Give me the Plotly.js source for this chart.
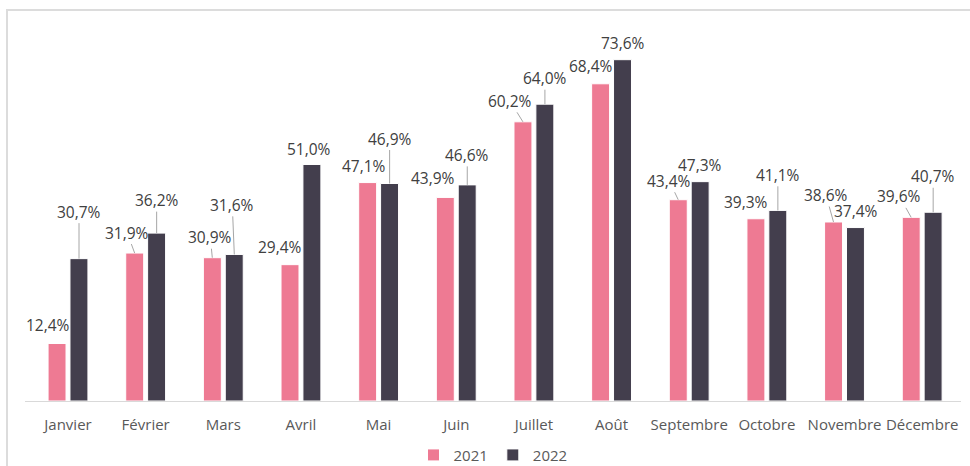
<!DOCTYPE html>
<html>
<head>
<meta charset="utf-8">
<script src="https://cdn.plot.ly/plotly-3.0.1.min.js"></script>
<style>
  html, body { margin: 0; padding: 0; background: #ffffff; }
  #wrap { position: relative; width: 970px; height: 466px; overflow: hidden; }
  #chart { position: absolute; left: 0; top: 0; width: 970px; height: 466px; }
  #frame { position: absolute; left: 6px; top: 9px; width: 980px; height: 480px;
           border-left: 2px solid #dcdcdc; border-top: 2px solid #dcdcdc; pointer-events: none; }
</style>
</head>
<body>
<div id="wrap">
  <div id="chart"></div>
  <div id="frame"></div>
</div>
<script>
// ---- data ----
const months = ["Janvier", "Février", "Mars", "Avril", "Mai", "Juin", "Juillet", "Août", "Septembre", "Octobre", "Novembre", "Décembre"];
const series2021 = [12.4, 31.9, 30.9, 29.4, 47.1, 43.9, 60.2, 68.4, 43.4, 39.3, 38.6, 39.6];
const series2022 = [30.7, 36.2, 31.6, 51.0, 46.9, 46.6, 64.0, 73.6, 47.3, 41.1, 37.4, 40.7];
const seriesNames = ["2021", "2022"];

// ---- styling / label placement (pixel offsets of callouts) ----
const colors = ["#EE7A93", "#433E4D"];
const barShift = 11; // px offset of each bar from category centre
const callouts2021 = [[-9,-19,0],[-7.5,-20.5,1],[-2,-20.5,1],[-9.5,-18,0],[-3.5,-17,0],[-12,-19,0],[-13,-21,1],[-10,-17.5,0],[-9,-19,1],[-9.5,-17,0],[-7.5,-27,1],[-11.7,-21,1]];
const callouts2022 = [[0,-47,1],[0,-33,1],[-2,-49.6,1],[-3,-15,0],[0,-45,1],[0,-30,1],[0,-26,1],[0,-17,0],[0,-17,0],[0,-35.6,1],[0,-17,0],[0,-36,1]];

const fmt = v => v.toFixed(1).replace('.', ',') + '%';

const traces = [series2021, series2022].map((vals, k) => ({
  type: 'bar',
  name: seriesNames[k],
  x: months,
  y: vals,
  marker: { color: colors[k], line: { color: '#ffffff', width: 1 } },
  hoverinfo: 'skip'
}));

const annotations = [];
[[series2021, callouts2021, -barShift], [series2022, callouts2022, barShift]].forEach(([vals, co, shift]) => {
  vals.forEach((v, i) => {
    annotations.push({
      x: months[i], y: v, xref: 'x', yref: 'y',
      text: fmt(v),
      xshift: shift,
      showarrow: true,
      arrowhead: 0, arrowwidth: 1, standoff: 0, startstandoff: 0,
      arrowcolor: co[i][2] ? '#a6a6a6' : 'rgba(0,0,0,0)',
      ax: co[i][0], ay: co[i][1], axref: 'pixel', ayref: 'pixel',
      font: { family: 'Open Sans', size: 15.5, color: '#404040' },
      borderpad: 0
    });
  });
});

const layout = {
  width: 970, height: 466,
  margin: { l: 25, r: 9, t: 30, b: 65, autoexpand: false },
  paper_bgcolor: '#ffffff', plot_bgcolor: '#ffffff',
  barmode: 'group', bargap: 0.436, bargroupgap: 0.18,
  showlegend: true,
  legend: { orientation: 'h', x: 0.5, xanchor: 'center', y: -0.146, yanchor: 'middle',
            font: { family: 'Open Sans', size: 15, color: '#595959' }, itemwidth: 30 },
  xaxis: { type: 'category', showline: true, linecolor: '#d9d9d9', linewidth: 1,
           ticks: '', showgrid: false, zeroline: false, fixedrange: true,
           ticklabelstandoff: 10,
           tickfont: { family: 'Open Sans', size: 15, color: '#595959' } },
  yaxis: { range: [0, 80], visible: false, showgrid: false, zeroline: false, fixedrange: true },
  annotations: annotations
};

Plotly.newPlot('chart', traces, layout, { displayModeBar: false, staticPlot: true });
</script>
</body>
</html>
